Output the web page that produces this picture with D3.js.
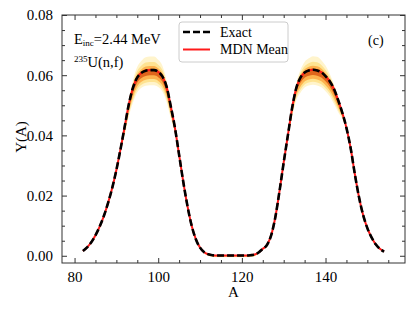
<!doctype html>
<html>
	<head>
		<style>
			body{ margin: 0; background: #fff; }
			#chart .domain{ display: none; }
			#chart .tick line{ stroke: #333; }
		</style>
	</head>
	<body>
		<svg id=chart></svg>

		<script src="https://cdn.jsdelivr.net/npm/d3@7"></script>
		<script>
			// mass number A
			var massA = [82, 83, 84, 85, 86, 87, 88, 89, 90, 91,
				92, 93, 94, 95, 96, 97, 98, 99, 100, 101,
				102, 103, 104, 105, 106, 107, 108, 109, 110, 111,
				112, 113, 114, 115, 116, 117, 118, 119, 120, 121,
				122, 123, 124, 125, 126, 127, 128, 129, 130, 131,
				132, 133, 134, 135, 136, 137, 138, 139, 140, 141,
				142, 143, 144, 145, 146, 147, 148, 149, 150, 151,
				152, 153, 154];
			// exact yield Y(A)
			var yieldExact = [0.0016, 0.0028, 0.0045, 0.0068, 0.0097, 0.0132, 0.0175, 0.0225, 0.0285, 0.0355,
				0.0430, 0.0505, 0.0560, 0.0593, 0.0608, 0.0615, 0.0617, 0.0617, 0.0611, 0.0596,
				0.0562, 0.0497, 0.0425, 0.0335, 0.0245, 0.0165, 0.0100, 0.0055, 0.0027, 0.0012,
				0.0005, 0.0002, 0.0001, 0.0001, 0.0001, 0.0001, 0.0001, 0.0001, 0.0001, 0.0001,
				0.0002, 0.0004, 0.0011, 0.0023, 0.0036, 0.0068, 0.0128, 0.0215, 0.0310, 0.0400,
				0.0490, 0.0557, 0.0592, 0.0609, 0.0616, 0.0618, 0.0616, 0.0610, 0.0597, 0.0580,
				0.0555, 0.0518, 0.0476, 0.0425, 0.0358, 0.0272, 0.0195, 0.0135, 0.0092, 0.0061,
				0.0038, 0.0023, 0.0014];
			// MDN mean sits right on the exact curve
			var yieldMdn = yieldExact.slice();
			// spread of the MDN samples above / below the mean
			var spreadUp = [0, 0, 0, 0, 0, 0, 0, 0, 0, 0,
				0.0005, 0.0015, 0.0025, 0.0035, 0.004, 0.0045, 0.0045, 0.0045, 0.004, 0.0035,
				0.002, 0.001, 0, 0, 0, 0, 0, 0, 0, 0,
				0, 0, 0, 0, 0, 0, 0, 0, 0, 0,
				0, 0, 0, 0, 0, 0, 0, 0, 0, 0,
				0.0005, 0.0015, 0.0025, 0.0035, 0.004, 0.0045, 0.0045, 0.004, 0.0035, 0.0025,
				0.0015, 0.0005, 0, 0, 0, 0, 0, 0, 0, 0,
				0, 0, 0];
			var spreadDown = [0, 0, 0, 0, 0, 0, 0, 0, 0, 0.001,
				0.003, 0.004, 0.005, 0.005, 0.005, 0.005, 0.005, 0.005, 0.005, 0.005,
				0.005, 0.004, 0.002, 0.0005, 0, 0, 0, 0, 0, 0.0003,
				0.0006, 0.0006, 0.0006, 0.0006, 0.0006, 0.0006, 0.0006, 0.0006, 0.0006, 0.0006,
				0.0006, 0.0006, 0.0003, 0, 0, 0, 0, 0, 0, 0.001,
				0.003, 0.004, 0.005, 0.005, 0.005, 0.005, 0.005, 0.005, 0.005, 0.005,
				0.005, 0.004, 0.002, 0.0005, 0, 0, 0, 0, 0, 0,
				0, 0, 0];
			var xTicks = [80, 100, 120, 140];
			var yTicks = [0.00, 0.02, 0.04, 0.06, 0.08];

			var serif = '"Liberation Serif", "Times New Roman", serif';
			var width = 415, height = 312,
				margin = {top: 15, right: 10, bottom: 49, left: 62},
				w = width - margin.left - margin.right,
				h = height - margin.top - margin.bottom;

			var chart = d3.select("#chart").attr("width", width).attr("height", height);
			var g = chart.append("g").attr("transform", "translate(" + margin.left + "," + margin.top + ")");

			var x = d3.scaleLinear().domain([77, 159]).range([0, w]);
			var y = d3.scaleLinear().domain([-0.0024, 0.08]).range([h, 0]);

			var rows = massA.map(function(a, i) {
				return {a: a, exact: yieldExact[i], mdn: yieldMdn[i], up: spreadUp[i], down: spreadDown[i]};
			});

			// sample density, drawn as nested bands (light outside, dark inside)
			var layers = [
				{fu: 1.0, fd: 1.0, color: "#fff4cc"},
				{fu: 0.6, fd: 0.8, color: "#fee391"},
				{fu: 0.3, fd: 0.6, color: "#fdb24e"},
				{fu: 0.1, fd: 0.35, color: "#e0651c"}
			];
			layers.forEach(function(l) {
				g.append("path")
					.datum(rows)
					.attr("fill", l.color)
					.attr("d", d3.area()
						.curve(d3.curveMonotoneX)
						.x(function(d) { return x(d.a); })
						.y0(function(d) { return y(d.mdn - d.down * l.fd); })
						.y1(function(d) { return y(d.mdn + d.up * l.fu); }));
			});

			var line = function(key) {
				return d3.line().curve(d3.curveMonotoneX)
					.x(function(d) { return x(d.a); })
					.y(function(d) { return y(d[key]); });
			};
			g.append("path").datum(rows)
				.attr("fill", "none").attr("stroke", "#ff1a1a").attr("stroke-width", 2)
				.attr("d", line("mdn"));
			g.append("path").datum(rows)
				.attr("fill", "none").attr("stroke", "#000").attr("stroke-width", 2.6)
				.attr("stroke-dasharray", "7,3")
				.attr("d", line("exact"));

			// axes, ticks pointing inward on all four sides
			var minorX = d3.range(80, 159, 5).filter(function(v) { return v % 20 != 0; });
			var minorY = d3.range(0, 0.0801, 0.005).filter(function(v, i) { return i % 4 != 0; });

			g.append("g").attr("transform", "translate(0," + h + ")")
				.call(d3.axisBottom(x).tickValues(xTicks).tickSize(-5).tickPadding(8.5).tickFormat(d3.format("d")));
			g.append("g").attr("transform", "translate(0," + h + ")")
				.call(d3.axisBottom(x).tickValues(minorX).tickSize(-3).tickFormat(""));
			g.append("g").call(d3.axisTop(x).tickValues(xTicks).tickSize(-5).tickFormat(""));
			g.append("g").call(d3.axisTop(x).tickValues(minorX).tickSize(-3).tickFormat(""));

			g.append("g")
				.call(d3.axisLeft(y).tickValues(yTicks).tickSize(-5).tickPadding(9).tickFormat(d3.format(".2f")));
			g.append("g").call(d3.axisLeft(y).tickValues(minorY).tickSize(-3).tickFormat(""));
			g.append("g").attr("transform", "translate(" + w + ",0)")
				.call(d3.axisRight(y).tickValues(yTicks).tickSize(-5).tickFormat(""));
			g.append("g").attr("transform", "translate(" + w + ",0)")
				.call(d3.axisRight(y).tickValues(minorY).tickSize(-3).tickFormat(""));

			g.selectAll(".tick text").style("font-size", "15px");

			g.append("rect").attr("width", w).attr("height", h)
				.attr("fill", "none").attr("stroke", "#333").attr("stroke-width", 1);

			// axis titles
			g.append("text").attr("x", w / 2).attr("y", h + 34)
				.attr("text-anchor", "middle").style("font-size", "15px").text("A");
			g.append("text").attr("transform", "translate(" + (26 - margin.left) + "," + (h / 2 - 2) + ") rotate(-90)")
				.attr("text-anchor", "middle").style("font-size", "15px").text("Y(A)");

			// annotations
			var ann = g.append("text").attr("x", 12).attr("y", 29).style("font-size", "14.5px");
			ann.append("tspan").text("E");
			ann.append("tspan").style("font-size", "9px").attr("dy", 2).text("inc");
			ann.append("tspan").attr("dy", -2).text("=2.44 MeV");
			var nuc = g.append("text").attr("x", 12).attr("y", 52).style("font-size", "14.5px");
			nuc.append("tspan").style("font-size", "9px").attr("dy", -5).text("235");
			nuc.append("tspan").attr("dy", 5).text("U(n,f)");
			g.append("text").attr("x", w - 37).attr("y", 30).style("font-size", "14px").text("(c)");

			// legend
			var leg = g.append("g").attr("transform", "translate(" + (179 - margin.left) + "," + (22 - margin.top) + ")");
			leg.append("rect").attr("width", 109).attr("height", 40).attr("rx", 3)
				.attr("fill", "#fff").attr("fill-opacity", 0.85).attr("stroke", "#ccc");
			leg.append("line").attr("x1", 4).attr("x2", 31).attr("y1", 10).attr("y2", 10)
				.attr("stroke", "#000").attr("stroke-width", 2.6).attr("stroke-dasharray", "7,3");
			leg.append("line").attr("x1", 4).attr("x2", 31).attr("y1", 27.5).attr("y2", 27.5)
				.attr("stroke", "#ff1a1a").attr("stroke-width", 2);
			leg.append("text").attr("x", 41).attr("y", 14.5).style("font-size", "14px").text("Exact");
			leg.append("text").attr("x", 41).attr("y", 32).style("font-size", "14px").text("MDN Mean");

			chart.selectAll("text").style("font-family", serif).style("fill", "#000");
		</script>
	</body>
</html>
